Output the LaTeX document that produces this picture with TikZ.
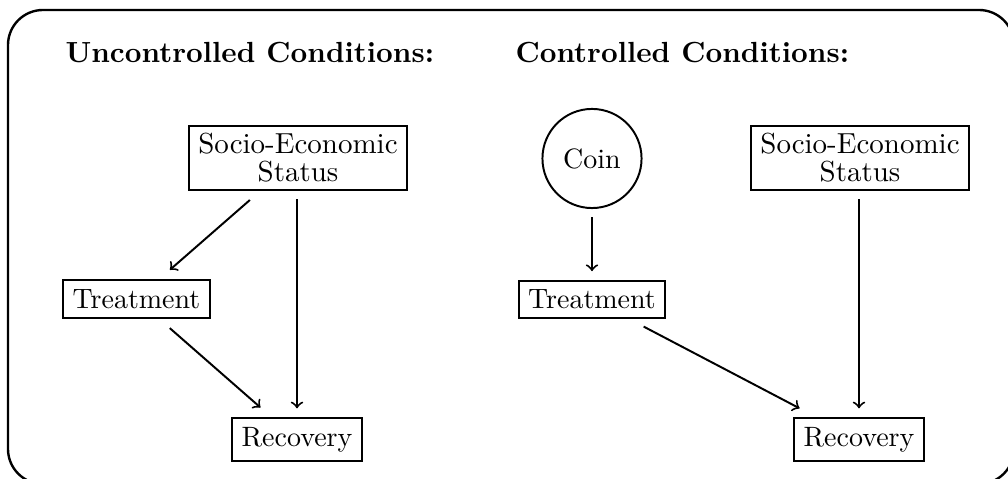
\documentclass[tikz,border=0pt]{standalone}
\begin{document}
\begin{tikzpicture}[x=0.35714pt, y=-0.35714pt,
  box/.style={draw, line width=0.7pt, inner sep=3.33pt},
  sesbox/.style={box, align=center, inner ysep=2.6pt, minimum width=78pt, font=\fontsize{10.35}{12}\selectfont},
  coinnode/.style={draw, circle, line width=0.7pt, minimum size=35.4pt, inner sep=0pt},
  title/.style={font=\fontsize{10.4}{12}\selectfont\bfseries, anchor=base west, inner sep=0pt},
  arr/.style={->, line width=0.7pt, shorten >=3pt, shorten <=3pt},
  darr/.style={arr, shorten >=5pt, shorten <=5pt}]
\useasboundingbox (0,0) rectangle (1008,479);
\draw[line width=0.85pt, rounded corners=12.5pt] (8,10) rectangle (1014,484);

\node[title] (tu) at (65,63) {Uncontrolled Conditions:};
\node[title] (tc) at (515,63) {Controlled Conditions:};

\node[sesbox] (sesl) at (298,158) {Socio-Economic\\[-2pt]Status};
\node[box] (tl) at (136.5,299) {Treatment};
\node[box] (rl) at (297,439.5) {Recovery};

\node[coinnode] (coin) at (592,158.5) {Coin};
\node[box] (tr) at (592,299.5) {Treatment};
\node[sesbox] (sesr) at (860,158) {Socio-Economic\\[-2pt]Status};
\node[box] (rr) at (859,439.5) {Recovery};

\draw[darr] (sesl) -- (tl);
\draw[arr] (sesl.south -| rl.north) -- (rl.north);
\draw[darr] (tl) -- (rl);

\draw[arr] (coin) -- (tr);
\draw[darr, shorten <=5.5pt, shorten >=6.5pt] (tr) -- (rr);
\draw[arr] (sesr.south -| rr.north) -- (rr.north);
\end{tikzpicture}
\end{document}
